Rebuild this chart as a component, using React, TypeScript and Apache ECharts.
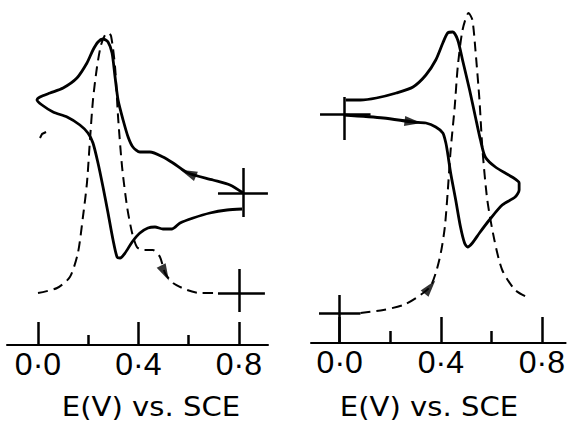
import React, { useEffect, useRef } from "react";
import * as echarts from "echarts";

// ---- Data (E in V vs. SCE, current in arbitrary units, cathodic current upward) ----
// Left panel: cyclic voltammogram (solid), started at +0.8 V, scanned negative
const leftCV: [number, number][] = [
  [0.817, 15.2], [0.765, 16.0], [0.697, 16.5], [0.598, 17.2], [0.538, 18.2], [0.498, 18.8],
  [0.446, 19.3], [0.406, 19.3], [0.378, 19.8], [0.359, 20.8], [0.339, 22.5], [0.319, 24.5],
  [0.307, 26.8], [0.295, 29.2], [0.279, 30.3], [0.259, 30.6], [0.239, 30.3], [0.219, 29.5],
  [0.195, 28.2], [0.155, 26.7], [0.100, 25.7], [0.048, 25.2], [0.008, 24.8], [-0.004, 24.5],
  [0.016, 24.0], [0.060, 23.3], [0.116, 22.8], [0.167, 22.0], [0.199, 21.2], [0.219, 20.2],
  [0.239, 18.2], [0.259, 15.8], [0.279, 13.2], [0.299, 10.5], [0.315, 8.8], [0.327, 8.7],
  [0.347, 9.2], [0.375, 10.3], [0.406, 11.2], [0.438, 11.7], [0.466, 11.8], [0.498, 11.6],
  [0.534, 11.6], [0.566, 12.2], [0.618, 12.7], [0.685, 13.2], [0.753, 13.5], [0.813, 13.6],
];
// Left panel: dashed curve
const leftDashed: [number, number][] = [
  [0.0, 5.2], [0.076, 5.7], [0.127, 6.8], [0.159, 9.2], [0.179, 12.8], [0.195, 16.2],
  [0.207, 20.5], [0.219, 24.5], [0.235, 27.8], [0.251, 30.0], [0.267, 31.0], [0.279, 31.2],
  [0.291, 30.9], [0.307, 27.8], [0.319, 22.8], [0.335, 17.8], [0.355, 13.8], [0.375, 11.2],
  [0.394, 9.8], [0.418, 9.5], [0.458, 9.5], [0.486, 8.8], [0.506, 7.2], [0.538, 6.2],
  [0.594, 5.5], [0.645, 5.2], [0.713, 5.2],
];
const leftStray: [number, number][] = [[0.008, 20.7], [0.016, 21.1], [0.032, 21.3]];

// Right panel: cyclic voltammogram (solid), started at 0.0 V, scanned positive
const rightCV: [number, number][] = [
  [0.016, 22.8], [0.173, 22.5], [0.290, 22.1], [0.341, 22.0], [0.380, 21.6], [0.408, 21.0],
  [0.420, 20.0], [0.427, 19.0], [0.439, 17.0], [0.459, 14.3], [0.478, 11.6], [0.494, 10.0],
  [0.506, 9.6], [0.525, 10.0], [0.553, 11.0], [0.592, 12.3], [0.643, 13.8], [0.694, 14.6],
  [0.710, 15.3], [0.710, 16.0], [0.682, 16.6], [0.616, 17.6], [0.576, 18.6], [0.557, 20.3],
  [0.537, 22.6], [0.514, 25.3], [0.486, 28.3], [0.467, 30.3], [0.447, 31.1], [0.427, 31.0],
  [0.408, 30.0], [0.380, 28.3], [0.341, 26.8], [0.290, 25.6], [0.224, 25.0], [0.145, 24.5],
  [0.082, 24.3], [0.024, 24.3],
];
// Right panel: dashed curve
const rightDashed: [number, number][] = [
  [0.082, 3.0], [0.173, 3.3], [0.251, 3.8], [0.302, 4.5], [0.357, 5.6], [0.380, 7.0],
  [0.400, 9.0], [0.416, 11.6], [0.427, 15.0], [0.439, 19.3], [0.455, 23.6], [0.467, 27.6],
  [0.486, 31.3], [0.510, 33.0], [0.525, 32.3], [0.537, 29.3], [0.553, 24.3], [0.565, 19.3],
  [0.584, 14.3], [0.612, 10.3], [0.643, 7.3], [0.694, 5.3], [0.749, 4.5],
];

// Zero-current crosses: [E1, i1, E2, i2] segments
const leftSolidCross = [[0.817, 17.7, 0.817, 12.8], [0.717, 15.2, 0.916, 15.2]];
const leftDashedCross = [[0.8, 7.6, 0.8, 3.3], [0.717, 5.2, 0.904, 5.2]];
const rightSolidCross = [[0.016, 24.6, 0.016, 20.3], [-0.078, 22.9, 0.122, 22.9]];
const rightDashedCross = [[0.0, 4.8, 0.0, 0.0], [-0.082, 3.0, 0.082, 3.0]];

// Scan direction arrows: [E, i, rotation]
const leftArrows = [[0.598, 17.2, 67], [0.506, 7.2, 207]];
const rightArrows = [[0.290, 22.1, -97], [0.357, 5.6, -39]];

// Axis ticks / labels
const majorTicks = [0, 0.4, 0.8];
const majorTickLabels = ["0·0", "0·4", "0·8"];
const minorTicks = [0.2, 0.6];
const axisTitle = "E(V) vs. SCE";

const BLACK = "#000";

function crossLines(segs: number[][]) {
  return {
    silent: true,
    symbol: ["none", "none"],
    label: { show: false },
    lineStyle: { color: BLACK, width: 2.5, type: "solid" },
    data: segs.map((s) => [{ coord: [s[0], s[1]] }, { coord: [s[2], s[3]] }]),
  };
}

function xAxes(grid: number, min: number, max: number, majorLen: number, minorLen: number) {
  return [
    {
      type: "value",
      gridIndex: grid,
      position: "bottom",
      min,
      max,
      axisLine: { show: true, lineStyle: { color: BLACK, width: 2 } },
      axisTick: {
        show: true,
        inside: true,
        length: majorLen,
        customValues: majorTicks,
        lineStyle: { color: BLACK, width: 2.5 },
      },
      axisLabel: {
        show: true,
        customValues: majorTicks,
        formatter: (v: number) => {
          const k = majorTicks.findIndex((t) => Math.abs(t - v) < 1e-6);
          return k >= 0 ? majorTickLabels[k] : "";
        },
        color: BLACK,
        fontSize: 32,
        fontFamily: "Liberation Sans",
        margin: 3,
      },
      splitLine: { show: false },
    },
    {
      type: "value",
      gridIndex: grid,
      position: "bottom",
      min,
      max,
      axisLine: { show: false },
      axisTick: {
        show: true,
        inside: true,
        length: minorLen,
        customValues: minorTicks,
        lineStyle: { color: BLACK, width: 2.5 },
      },
      axisLabel: { show: false },
      splitLine: { show: false },
    },
  ];
}

function lineSeries(xi: number, yi: number, data: [number, number][], dashed: boolean, extra: any = {}) {
  return {
    type: "line",
    xAxisIndex: xi,
    yAxisIndex: yi,
    data,
    symbol: "none",
    showSymbol: false,
    smooth: 0.25,
    silent: true,
    lineStyle: { color: BLACK, width: dashed ? 2 : 2.8, type: dashed ? [10, 6] : "solid" },
    ...extra,
  };
}

function arrowSeries(xi: number, yi: number, arrows: number[][]) {
  return {
    type: "scatter",
    xAxisIndex: xi,
    yAxisIndex: yi,
    symbol: "triangle",
    symbolSize: [10, 17],
    silent: true,
    itemStyle: { color: BLACK },
    data: arrows.map((a) => ({ value: [a[0], a[1]], symbolRotate: a[2] })),
  };
}

function titleText(x: number) {
  return {
    type: "text",
    x,
    y: 407,
    scaleX: 1.12,
    style: {
      text: axisTitle,
      font: '26px "DejaVu Sans"',
      fill: BLACK,
      align: "center",
      verticalAlign: "middle",
      textAlign: "center",
      textVerticalAlign: "middle",
    },
  };
}

export default function App() {
  const ref = useRef<HTMLDivElement>(null);
  useEffect(() => {
    if (!ref.current) return;
    const chart = echarts.init(ref.current, null, { renderer: "svg" });
    chart.setOption({
      animation: false,
      backgroundColor: "#fff",
      grid: [
        { left: 7, top: 0, width: 261, height: 345 },
        { left: 311, top: 0, width: 257, height: 343 },
      ],
      xAxis: [...xAxes(0, -0.1235, 0.9163, 23, 10), ...xAxes(1, -0.1137, 0.894, 26, 12)],
      yAxis: [
        { type: "value", gridIndex: 0, min: 0, max: 34.5, show: false },
        { type: "value", gridIndex: 1, min: 0, max: 34.3, show: false },
      ],
      series: [
        lineSeries(0, 0, leftCV, false, { markLine: crossLines(leftSolidCross) }),
        lineSeries(0, 0, leftDashed, true, { markLine: crossLines(leftDashedCross) }),
        lineSeries(0, 0, leftStray, false, { smooth: false, lineStyle: { color: BLACK, width: 2 } }),
        arrowSeries(0, 0, leftArrows),
        lineSeries(2, 1, rightCV, false, { markLine: crossLines(rightSolidCross) }),
        lineSeries(2, 1, rightDashed, true, { markLine: crossLines(rightDashedCross) }),
        arrowSeries(2, 1, rightArrows),
      ],
      graphic: [titleText(151), titleText(429)],
    });
    return () => chart.dispose();
  }, []);
  return (
    <div
      ref={ref}
      style={{ position: "fixed", left: 0, top: 0, width: 568, height: 429, background: "#fff" }}
    />
  );
}
